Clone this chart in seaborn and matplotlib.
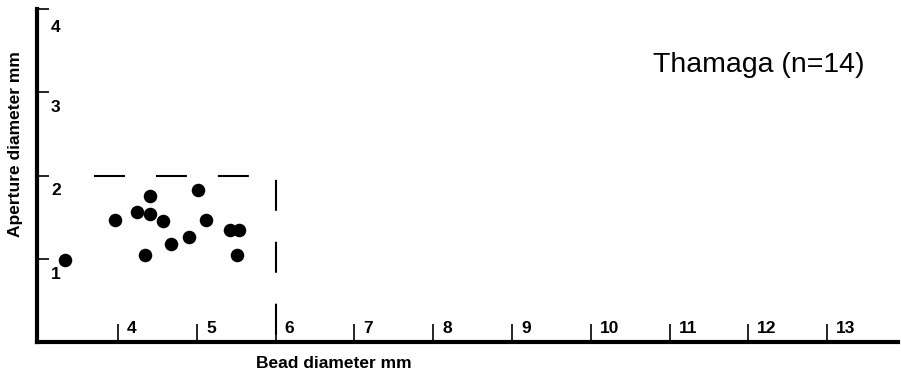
import matplotlib
matplotlib.use("Agg")
import matplotlib.pyplot as plt
import seaborn as sns
import pandas as pd

# Data
bead_diameter = [3.33, 3.96, 4.24, 4.40, 4.40, 4.57, 4.34, 4.67, 4.90, 5.01, 5.11, 5.42, 5.53, 5.51]
aperture_diameter = [0.99, 1.46, 1.56, 1.75, 1.54, 1.45, 1.05, 1.18, 1.26, 1.83, 1.46, 1.35, 1.35, 1.04]
x_ticks = [4, 5, 6, 7, 8, 9, 10, 11, 12, 13]
y_ticks = [1, 2, 3, 4]
box_x = [3.69, 6.0, 6.0]
box_y = [2.0, 2.0, 0.0]
title_text = "Thamaga (n=14)"
x_label = "Bead diameter mm"
y_label = "Aperture diameter mm"

sns.set_style("white")
plt.rcParams["font.family"] = ["Liberation Sans", "DejaVu Sans"]
plt.rcParams["lines.scale_dashes"] = False
plt.rcParams["text.color"] = "black"

df = pd.DataFrame({"bead": bead_diameter, "aperture": aperture_diameter})

fig = plt.figure(figsize=(9.01, 3.79), dpi=100)
ax = fig.add_axes([37 / 901, 1 - 342 / 379, (898 - 37) / 901, (342 - 9) / 379])

sns.scatterplot(data=df, x="bead", y="aperture", ax=ax, color="black",
                s=95, edgecolor="black", linewidth=0, zorder=3, legend=False)

ax.plot(box_x, box_y, color="black", linewidth=1.5,
        linestyle=(0, (22.3, 22.3)), zorder=2)

ax.set_xlim(2.97, 13.9)
ax.set_ylim(0, 4.0)
ax.set_xlabel("")
ax.set_ylabel("")

for s in ["top", "right"]:
    ax.spines[s].set_visible(False)
for s in ["left", "bottom"]:
    ax.spines[s].set_linewidth(3.0)
    ax.spines[s].set_color("black")
    ax.spines[s].set_capstyle("projecting")

ax.set_xticks(x_ticks)
ax.set_yticks(y_ticks)
ax.set_xticklabels([])
ax.set_yticklabels([])
ax.tick_params(axis="x", which="major", bottom=True, direction="in",
               length=13, width=1.2, color="black")
ax.tick_params(axis="y", which="major", left=True, direction="in",
               length=8.5, width=1.2, color="black")

tick_font = dict(fontsize=12.5, fontweight="bold", color="black")
for t in x_ticks:
    ax.annotate(str(t), xy=(t, 0), xycoords=("data", "axes fraction"),
                xytext=(6.5, 10), textcoords="offset points",
                ha="left", va="center", **tick_font)
for t in y_ticks:
    off = -13 if t == 4 else -11
    ax.annotate(str(t), xy=(0, t), xycoords=("axes fraction", "data"),
                xytext=(13.5, off), textcoords="offset points",
                ha="center", va="center", **tick_font)

ax.text((653 - 37) / (898 - 37), (342 - 72) / (342 - 9), title_text,
        transform=ax.transAxes, fontsize=20.5, ha="left", va="baseline",
        color="black")

fig.text(334 / 901, 1 - 364 / 379, x_label, fontsize=12.5, fontweight="bold",
         ha="center", va="center", color="black")
fig.text(16 / 901, 1 - 144 / 379, y_label, fontsize=12.5, fontweight="bold",
         ha="center", va="center", rotation=90, color="black")

fig.savefig("out.png", dpi=100)
